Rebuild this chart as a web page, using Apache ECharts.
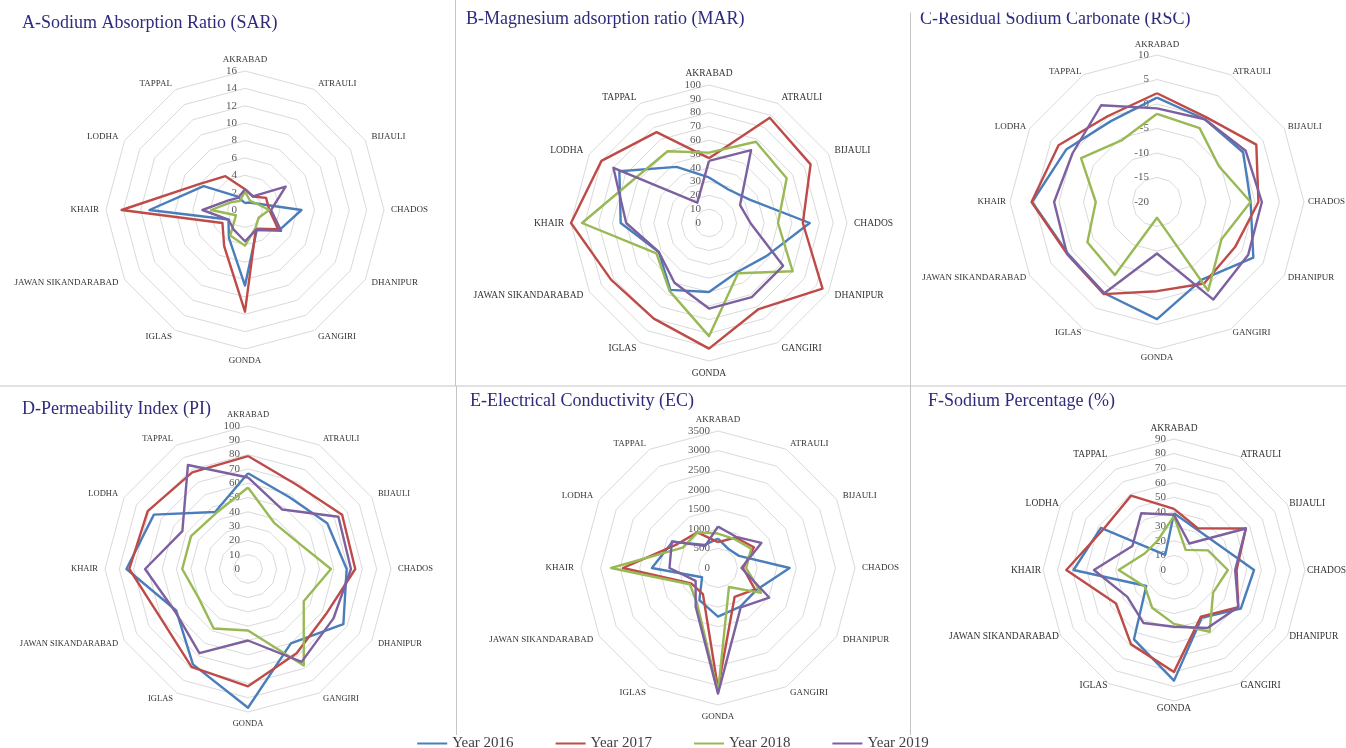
<!DOCTYPE html>
<html>
<head>
<meta charset="utf-8">
<script src="https://cdn.jsdelivr.net/npm/echarts@6/dist/echarts.min.js"></script>
<style>
  html, body { margin: 0; padding: 0; background: #ffffff; }
  #chart { width: 1346px; height: 748px; }
</style>
</head>
<body>
<div id="chart"></div>
<script>
// Blocks, clockwise from the top of every radar
const blocks = ['AKRABAD', 'ATRAULI', 'BIJAULI', 'CHADOS', 'DHANIPUR', 'GANGIRI',
  'GONDA', 'IGLAS', 'JAWAN SIKANDARABAD', 'KHAIR', 'LODHA', 'TAPPAL'];
const years = ['Year 2016', 'Year 2017', 'Year 2018', 'Year 2019'];

// A - Sodium Absorption Ratio
const sar2016 = [0.8, 1.0, 1.5, 6.5, 4.6, 2.7, 8.7, 3.7, 2.2, 11.0, 5.5, 1.8];
const sar2017 = [2.4, 1.8, 2.8, 2.8, 4.4, 2.5, 11.7, 4.8, 3.0, 14.2, 6.0, 4.5];
const sar2018 = [2.1, 1.2, 1.5, 2.8, 1.8, 2.4, 4.1, 3.4, 1.2, 3.9, 1.8, 1.2];
const sar2019 = [2.4, 1.8, 5.4, 3.0, 4.8, 2.6, 3.6, 2.6, 2.2, 4.9, 2.2, 1.6];

// B - Magnesium adsorption ratio
const mar2016 = [33, 28, 34, 73, 48, 41, 50, 56, 42, 64, 75, 47];
const mar2017 = [47, 88, 85, 68, 95, 72, 91, 80, 82, 100, 90, 76];
const mar2018 = [51, 68, 65, 50, 70, 42, 82, 57, 44, 92, 63, 60];
const mar2019 = [45, 61, 26, 30, 62, 62, 62, 50, 42, 60, 80, 17];

// C - Residual Sodium Carbonate
const rsc2016 = [1.3, -0.5, 0.3, -0.9, 2.7, -1.7, 3.9, 1.5, 1.0, 5.5, 1.4, -1.0];
const rsc2017 = [2.2, 0.0, 3.4, 0.7, -1.6, -0.8, -1.8, 1.7, 1.2, 5.6, 3.2, 0.2];
const rsc2018 = [-2.0, -2.6, -5.4, -0.9, -4.8, 0.9, -16.8, -2.8, -3.6, -7.5, -2.1, -5.5];
const rsc2019 = [-0.9, -0.5, 0.9, 1.4, 1.5, 3.0, -9.5, 1.5, 1.2, 1.0, -0.1, 2.8];

// D - Permeability Index
const pi2016 = [67, 58, 64, 69, 77, 60, 97, 77, 58, 85, 76, 46];
const pi2017 = [79, 68, 76, 75, 63, 68, 82, 79, 70, 83, 81, 78];
const pi2018 = [57, 37, 39, 58, 45, 78, 43, 48, 40, 46, 46, 45];
const pi2019 = [64, 48, 73, 72, 69, 75, 50, 68, 59, 72, 53, 84];

// E - Electrical Conductivity
const ec2016 = [750, 550, 620, 1830, 1130, 1140, 1240, 950, 470, 1690, 1340, 680];
const ec2017 = [660, 900, 1060, 640, 1090, 850, 3080, 770, 790, 2430, 1210, 1050];
const ec2018 = [880, 850, 980, 720, 1270, 560, 3170, 1060, 830, 2730, 1040, 1050];
const ec2019 = [1060, 920, 1280, 600, 1510, 1160, 3210, 1140, 660, 1240, 1360, 650];

// F - Sodium Percentage
const na2016 = [39, 32, 35, 55, 53, 38, 76, 55, 22, 69, 58, 12];
const na2017 = [42, 33, 57, 43, 51, 37, 70, 59, 46, 74, 56, 59];
const na2018 = [37, 16, 27, 37, 31, 49, 37, 30, 23, 38, 23, 23];
const na2019 = [38, 21, 57, 42, 51, 46, 39, 42, 37, 55, 33, 45];

// Value scales of the six radars
const scaleA = { min: 0, max: 16, split: 8 };
const scaleB = { min: 0, max: 100, split: 10 };
const scaleC = { min: -20, max: 10, split: 6 };
const scaleD = { min: 0, max: 100, split: 10 };
const scaleE = { min: 0, max: 3500, split: 7 };
const scaleF = { min: 0, max: 90, split: 9 };

const titles = ['A-Sodium Absorption Ratio (SAR)', 'B-Magnesium adsorption ratio (MAR)',
  'C-Residual Sodium Carbonate (RSC)', 'D-Permeability Index (PI)',
  'E-Electrical Conductivity (EC)', 'F-Sodium Percentage (%)'];

// Layout and styling
const colors = ['#4a7ebb', '#be4b48', '#98b954', '#7d60a0'];
const serif = 'Liberation Serif';
const panels = [
  { title: titles[0], scale: scaleA, data: [sar2016, sar2017, sar2018, sar2019],
    center: [245, 210], radius: 139, tx: 17, ty: 9.5, nameSize: 9, nameGap: 7 },
  { title: titles[1], scale: scaleB, data: [mar2016, mar2017, mar2018, mar2019],
    center: [709, 223], radius: 138, tx: 461, ty: 5, nameSize: 9.5, nameGap: 7 },
  { title: titles[2], scale: scaleC, data: [rsc2016, rsc2017, rsc2018, rsc2019],
    center: [1157, 202], radius: 147, tx: 915, ty: 5, nameSize: 9, nameGap: 4 },
  { title: titles[3], scale: scaleD, data: [pi2016, pi2017, pi2018, pi2019],
    center: [248, 569], radius: 143, tx: 17, ty: 395, nameSize: 8.5, nameGap: 7 },
  { title: titles[4], scale: scaleE, data: [ec2016, ec2017, ec2018, ec2019],
    center: [718, 568], radius: 137, tx: 465, ty: 387, nameSize: 9, nameGap: 7 },
  { title: titles[5], scale: scaleF, data: [na2016, na2017, na2018, na2019],
    center: [1174, 570], radius: 131, tx: 923, ty: 387, nameSize: 9.5, nameGap: 2 }
];

// ECharts lays indicators out counter-clockwise, so walk the blocks backwards after the first
const order = [0].concat(blocks.map((_, i) => blocks.length - 1 - i).slice(0, blocks.length - 1));
const reorder = arr => order.map(i => arr[i]);

const radars = panels.map(p => ({
  center: p.center,
  radius: p.radius,
  shape: 'polygon',
  startAngle: 90,
  splitNumber: p.scale.split,
  indicator: order.map((i, k) => {
    const ind = { name: blocks[i], min: p.scale.min, max: p.scale.max };
    if (k === 0) ind.axisLabel = { show: true };
    return ind;
  }),
  nameGap: p.nameGap,
  axisName: { color: '#333333', fontFamily: serif, fontSize: p.nameSize },
  axisLine: { show: false },
  axisTick: { show: false },
  axisLabel: {
    show: false, color: '#595959', fontFamily: serif, fontSize: 11, margin: 8,
    formatter: v => String(v)
  },
  splitLine: { lineStyle: { color: '#dadada', width: 1 } },
  splitArea: { show: false }
}));

const series = [];
panels.forEach((p, pi) => {
  years.forEach((y, yi) => {
    series.push({
      type: 'radar',
      radarIndex: pi,
      name: y,
      symbol: 'none',
      lineStyle: { color: colors[yi], width: 2.4 },
      itemStyle: { color: colors[yi] },
      data: [{ name: y, value: reorder(p.data[yi]) }]
    });
  });
});

const sepColor = '#c4c4c4';
const chart = echarts.init(document.getElementById('chart'), null, { renderer: 'canvas' });
chart.setOption({
  backgroundColor: '#ffffff',
  animation: false,
  color: colors,
  title: panels.map(p => ({
    text: p.title, left: p.tx, top: p.ty,
    textStyle: { fontFamily: serif, fontSize: 18, fontWeight: 'normal', color: '#2e2b7d' }
  })),
  legend: {
    data: years,
    top: 731,
    left: 'center',
    icon: 'rect',
    itemWidth: 30,
    itemHeight: 2,
    itemGap: 42,
    textStyle: { fontFamily: serif, fontSize: 15, color: '#404040' }
  },
  radar: radars,
  series: series,
  graphic: [
    // the right-hand title sits against the top edge of its frame
    { type: 'rect', shape: { x: 909, y: 0, width: 437, height: 12.5 }, style: { fill: '#ffffff' }, z: 100, silent: true },
    { type: 'line', shape: { x1: 0, y1: 386, x2: 1346, y2: 386 }, style: { stroke: sepColor, lineWidth: 1 }, silent: true },
    { type: 'line', shape: { x1: 455.5, y1: 0, x2: 455.5, y2: 386 }, style: { stroke: sepColor, lineWidth: 1 }, silent: true },
    { type: 'line', shape: { x1: 456.5, y1: 386, x2: 456.5, y2: 735 }, style: { stroke: sepColor, lineWidth: 1 }, silent: true },
    { type: 'line', shape: { x1: 910.5, y1: 0, x2: 910.5, y2: 386 }, style: { stroke: sepColor, lineWidth: 1 }, silent: true },
    { type: 'line', shape: { x1: 910.5, y1: 386, x2: 910.5, y2: 735 }, style: { stroke: sepColor, lineWidth: 1 }, silent: true }
  ]
});
</script>
</body>
</html>
